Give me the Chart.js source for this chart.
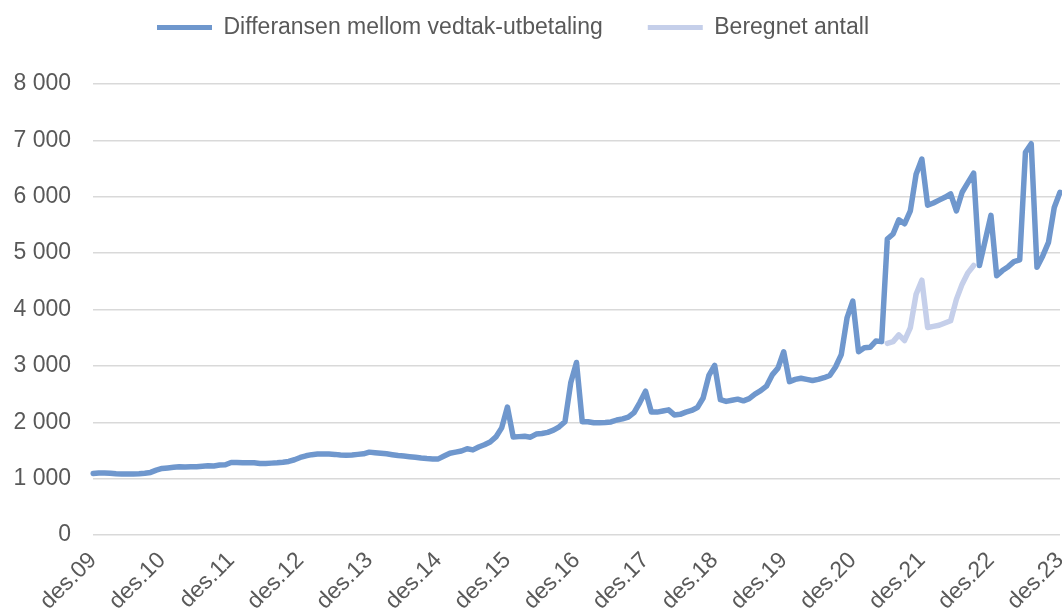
<!DOCTYPE html>
<html>
<head>
<meta charset="utf-8">
<script src="https://cdn.jsdelivr.net/npm/chart.js@4/dist/chart.umd.min.js"></script>
<style>
  html, body { margin: 0; padding: 0; background: #fff; }
  #wrap { width: 1062px; height: 612px; }
</style>
</head>
<body>
<div id="wrap"><canvas id="diffChart"></canvas></div>
<script>
// month names used for the category axis (des.09 .. des.23)
const monthNames = ["des", "jan", "feb", "mar", "apr", "mai", "jun", "jul", "aug", "sep", "okt", "nov"];
const tickLabels = ["des.09", "des.10", "des.11", "des.12", "des.13", "des.14", "des.15",
  "des.16", "des.17", "des.18", "des.19", "des.20", "des.21", "des.22", "des.23"];

// Differansen mellom vedtak-utbetaling, one row per year starting in december
const differanse = [
  1090, 1100, 1100, 1095, 1085, 1080, 1080, 1080, 1085, 1095, 1110, 1150,
  1180, 1190, 1200, 1210, 1205, 1210, 1210, 1220, 1230, 1225, 1240, 1245,
  1285, 1285, 1280, 1280, 1280, 1270, 1270, 1275, 1280, 1290, 1305, 1335,
  1375, 1405, 1425, 1435, 1435, 1435, 1430, 1420, 1415, 1420, 1430, 1440,
  1470, 1460, 1450, 1440, 1425, 1410, 1400, 1390, 1380, 1365, 1355, 1350,
  1350, 1400, 1450, 1470, 1490, 1530, 1510, 1560, 1600, 1650, 1740, 1900,
  2270, 1740, 1745, 1750, 1735, 1790, 1800, 1820, 1860, 1920, 2010, 2700,
  3060, 2010, 2010, 1990, 1990, 1995, 2005, 2040, 2060, 2090, 2170, 2350,
  2550, 2180, 2180, 2200, 2220, 2130, 2140, 2180, 2210, 2260, 2430, 2830,
  3010, 2400, 2370, 2390, 2410, 2380, 2420, 2500, 2560, 2640, 2840, 2960,
  3250, 2720, 2760, 2780, 2760, 2740, 2760, 2790, 2830, 2980, 3200, 3850,
  4150, 3250, 3320, 3330, 3440, 3430, 5250, 5340, 5590, 5520, 5750, 6400,
  6670, 5850, 5890, 5940, 5990, 6050, 5750, 6080, 6250, 6420, 4780, 5220,
  5670, 4600, 4690, 4760, 4850, 4880, 6790, 6940, 4750, 4950, 5190, 5810,
  6080
];

// Beregnet antall (only mai.21 - aug.22)
const beregnetStart = 138;
const beregnet = [3400, 3430, 3550, 3450, 3680, 4270, 4520, 3680, 3700, 3720, 3760, 3800, 4180, 4450, 4650, 4780];

const labels = differanse.map((v, i) => {
  const year = 9 + Math.floor((i + 11) / 12);
  return monthNames[i % 12] + "." + String(year).padStart(2, "0");
});
const beregnetFull = differanse.map((v, i) => {
  const k = i - beregnetStart;
  return k >= 0 && k < beregnet.length ? beregnet[k] : null;
});

function formatThousands(v) {
  return String(v).replace(/\B(?=(\d{3})+(?!\d))/g, " ");
}

Chart.defaults.font.family = "'Liberation Sans', Arial, sans-serif";
Chart.defaults.color = "#595959";

// give the legend more room below it and nudge it a bit to the left
const legendGap = {
  id: "legendGap",
  beforeInit(chart) {
    const origFit = chart.legend.fit;
    chart.legend.fit = function () {
      origFit.call(this);
      this.height += 35;
    };
  },
  afterLayout(chart) {
    chart.legend.left -= 17;
    chart.legend.right -= 17;
  },
};

const ctx = document.getElementById("diffChart").getContext("2d");
new Chart(ctx, {
  type: "line",
  data: {
    labels: labels,
    datasets: [
      {
        label: "Differansen mellom vedtak-utbetaling",
        data: differanse,
        borderColor: "#6f97cd",
        backgroundColor: "#6f97cd",
        borderWidth: 5.5,
        pointRadius: 0,
        tension: 0,
        borderJoinStyle: "round",
        borderCapStyle: "round",
      },
      {
        label: "Beregnet antall",
        data: beregnetFull,
        borderColor: "#c5cfea",
        backgroundColor: "#c5cfea",
        borderWidth: 5.5,
        pointRadius: 0,
        tension: 0,
        spanGaps: false,
        borderJoinStyle: "round",
        borderCapStyle: "round",
      },
    ],
  },
  options: {
    responsive: true,
    maintainAspectRatio: false,
    animation: false,
    layout: { padding: { top: -29, left: 0, right: 2, bottom: 0 } },
    plugins: {
      tooltip: { enabled: false },
      legend: {
        position: "top",
        labels: {
          boxWidth: 55,
          boxHeight: 5,
          padding: 45,
          font: { size: 23 },
          color: "#595959",
          generateLabels(chart) {
            const items = Chart.defaults.plugins.legend.labels.generateLabels(chart);
            items.forEach((it) => { it.lineWidth = 0; });
            return items;
          },
        },
      },
    },
    scales: {
      x: {
        grid: { display: false },
        border: { display: false },
        ticks: {
          autoSkip: false,
          maxRotation: 45,
          minRotation: 45,
          padding: 4,
          font: { size: 23 },
          color: "#595959",
          callback: function (value, index) {
            return index % 12 === 0 ? tickLabels[index / 12] : null;
          },
        },
        afterFit(scale) {
          scale.height = 77;
          scale.paddingLeft = 0;
          scale.paddingRight = 0;
        },
      },
      y: {
        min: 0,
        max: 8000,
        grid: { color: "#d9d9d9", lineWidth: 1.5, drawTicks: false },
        border: { display: false },
        ticks: {
          stepSize: 1000,
          padding: 22,
          font: { size: 23 },
          color: "#595959",
          callback: (v) => formatThousands(v),
        },
        afterFit(scale) { scale.width = 93; },
      },
    },
  },
  plugins: [legendGap],
});
</script>
</body>
</html>
